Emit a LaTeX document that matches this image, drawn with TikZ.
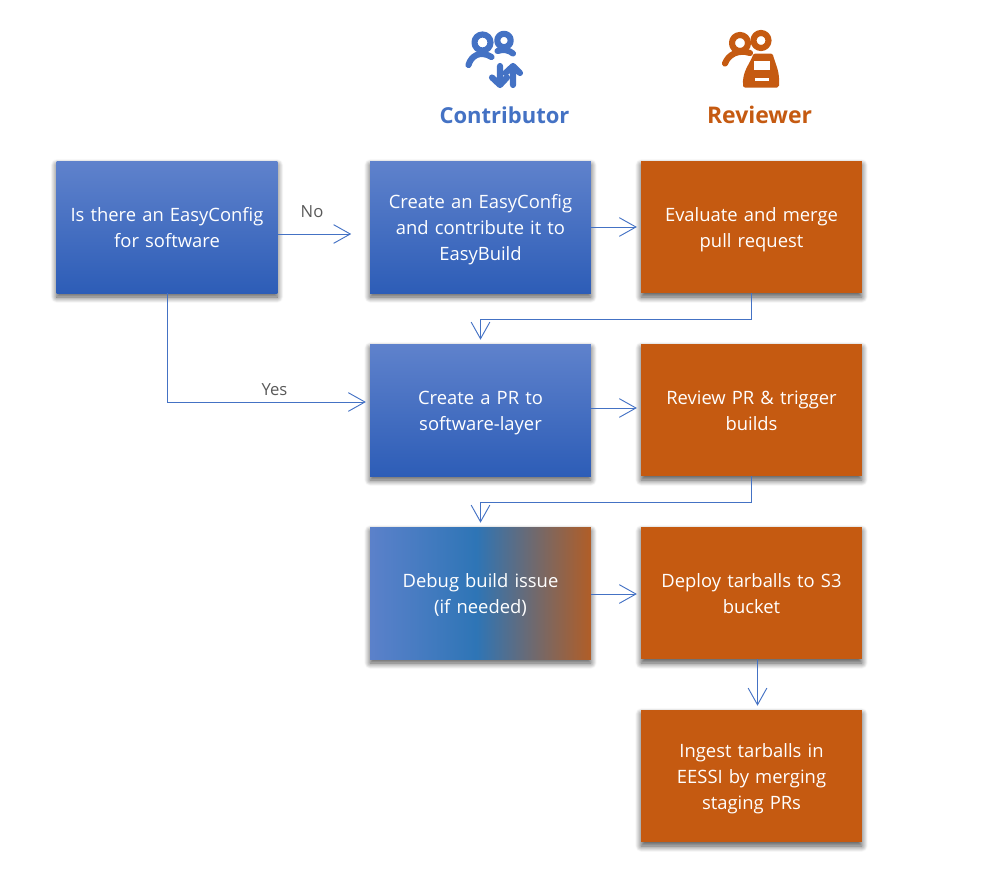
\documentclass[tikz,border=0pt]{standalone}
\usepackage{fontspec}
\setmainfont{Open Sans}
\usetikzlibrary{calc,arrows.meta,shadows.blur}
\definecolor{cblue}{HTML}{4472C4}
\definecolor{corange}{HTML}{C55A11}
\definecolor{ctop}{HTML}{5F82CC}
\definecolor{cbottom}{HTML}{2D5DB7}
\definecolor{cmid}{HTML}{2E75B6}
\pgfdeclarehorizontalshading{debugfill}{100bp}{
  color(0bp)=(ctop); color(23bp)=(ctop); color(49bp)=(cmid);
  color(79bp)=(corange); color(100bp)=(corange)}
\tikzset{
  box/.style={minimum width=165.5pt,minimum height=99pt,inner sep=0pt,
    text width=160pt,align=center,text=white,font=\fontsize{13.8}{19.5}\selectfont,
    execute at begin node={\rule{0pt}{15pt}},
    execute at end node={\rule[-4.2pt]{0pt}{4.2pt}},
    blur shadow={shadow xshift=0pt,shadow yshift=-3pt,shadow blur radius=4.5pt,
      shadow blur steps=16,shadow opacity=70}},
  contrib/.style={box,top color=ctop,bottom color=cbottom},
  review/.style={box,fill=corange},
  debugbox/.style={box,shading=debugfill},
  link/.style={cblue,line width=0.7pt,shorten >=3pt,
    -{Straight Barb[length=12.5pt,width=14pt,line width=0.7pt]}},
  lab/.style={text=black!65,font=\fontsize{12.5}{14}\selectfont},
  head/.style={font=\bfseries\fontsize{16.5}{20}\selectfont},
  icon/.style={line width=4.6pt,line cap=round,line join=round}
}
\begin{document}
\begin{tikzpicture}[x=0.75pt,y=-0.75pt]
  \useasboundingbox (0,0) rectangle (991,871);
  % column headings
  \node[head,text=cblue] (contributor) at (504.5,115) {Contributor};
  \node[head,text=corange,font=\bfseries\fontsize{17.2}{20}\selectfont] (reviewer) at (759.5,115) {Reviewer};
  % first row
  \node[contrib] (question) at (167,227) {Is there an EasyConfig\\for software};
  \node[contrib] (create) at (480.5,227) {Create an EasyConfig\\and contribute it to\\EasyBuild};
  \node[review] (evaluate) at (751.5,227) {Evaluate and merge\\pull request};
  % second row
  \node[contrib] (pr) at (480.5,410) {Create a PR to\\software-layer};
  \node[review] (trigger) at (751.5,410) {Review PR \& trigger\\builds};
  % third and fourth rows
  \node[debugbox] (debug) at (480.5,593) {Debug build issue\\(if needed)};
  \node[review] (deploy) at (751.5,593) {Deploy tarballs to S3\\bucket};
  \node[review] (ingest) at (751.5,776) {Ingest tarballs in\\EESSI by merging\\staging PRs};
  % connectors
  \draw[link,shorten >=14pt] ([yshift=-5.25pt]question.east) -- ([yshift=-5.25pt]create.west);
  \draw[link] (create.east) -- (evaluate.west);
  \draw[link] (evaluate.south) -- ++(0,26) -| (pr.north);
  \draw[link] (question.south) |- ([yshift=6pt]pr.west);
  \draw[link] ([yshift=1.5pt]pr.east) -- ([yshift=1.5pt]trigger.west);
  \draw[link] (trigger.south) -- ++(0,26) -| (debug.north);
  \draw[link] ([yshift=-0.75pt]debug.east) -- ([yshift=-0.75pt]deploy.west);
  \draw[link] ([xshift=4.5pt]deploy.south) -- ([xshift=4.5pt]ingest.north);
  \node[lab] (no) at (312,212) {No};
  \node[lab] (yes) at (274.5,390) {Yes};
  % contributor icon
  \begin{scope}[icon,draw=cblue]
    \draw (482.5,42.5) circle (8);
    \draw (504,40.5) circle (6.7);
    \draw (468.5,65) .. controls (471,56) and (480,50) .. (491.5,57);
    \draw (497.5,51) .. controls (503,49) and (509,50) .. (513,53.5);
    \draw (500,66) -- (500,85) (492,77.5) -- (500,85) -- (507,77.5);
    \draw (513,85) -- (513,66) (505.5,73) -- (513,66) -- (520,73);
  \end{scope}
  % reviewer icon
  \begin{scope}[icon,draw=corange]
    \draw (740,43) circle (8);
    \draw (761,40.5) circle (7.5);
    \draw (725,63.5) .. controls (728,55) and (738,49) .. (750,53);
    \filldraw[fill=corange,line width=3pt] (755,55.5) -- (771,55.5)
      .. controls (774,66) and (778,72) .. (777,85.5) -- (745,85.5)
      .. controls (744,72) and (751,66) .. cycle;
    \fill[white] (754,61) rectangle (770,70);
    \fill[white] (755,78) rectangle (769,81);
  \end{scope}
\end{tikzpicture}
\end{document}
